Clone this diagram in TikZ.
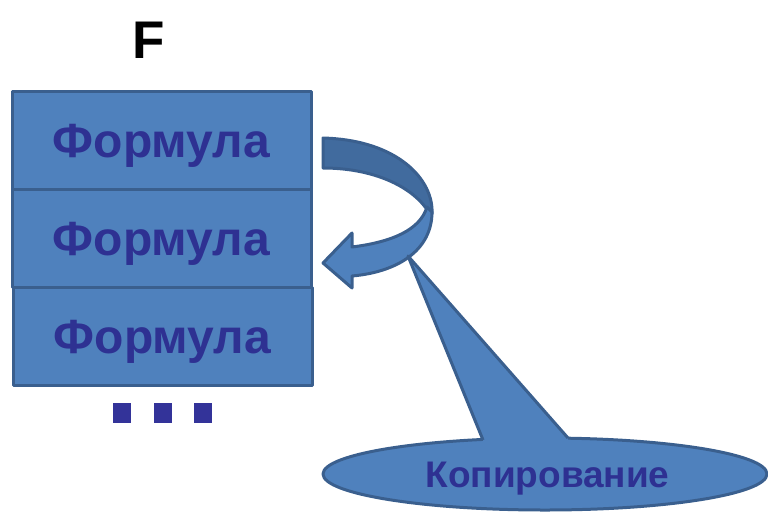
\documentclass[tikz,border=0pt]{standalone}
\usepackage{fontspec}
\setmainfont{Liberation Sans}
\usetikzlibrary{positioning,shapes.geometric}
\definecolor{boxfill}{HTML}{4F81BD}
\definecolor{boxline}{HTML}{3A5F8E}
\definecolor{bandfill}{HTML}{416B9E}
\definecolor{txtblue}{HTML}{2E3192}
\definecolor{dotblue}{HTML}{333399}

\begin{document}
\begin{tikzpicture}[
    x = 1pt,
    y = -1pt,
    line width = 3pt,
    line join = round,
    formula/.style={rectangle, draw=boxline, fill=boxfill, minimum width=299pt,
        minimum height=98pt, inner sep=0pt, outer sep=0pt, text=txtblue,
        font=\fontsize{48}{48}\selectfont\bfseries, text height=34pt, text depth=0pt},
    dot/.style={rectangle, fill=dotblue, minimum width=18pt, minimum height=20pt, inner sep=0pt},
    bubble/.style={ellipse, draw=boxline, fill=boxfill, minimum width=444pt,
        minimum height=72pt, inner sep=0pt},
    label/.style={text=txtblue, font=\fontsize{37}{37}\selectfont\bfseries,
        text height=27pt, text depth=0pt}
]
    \useasboundingbox (0,0) rectangle (768,512);

    \node[font=\fontsize{53}{53}\selectfont\bfseries, text height=38pt, text depth=0pt]
        (title) at (149,39) {F};

    \node[formula] (f1) at (161.5,140) {Формула};
    \node[formula, below=0pt of f1] (f2) {Формула};
    \node[formula, below=0pt of f2, xshift=1pt] (f3) {Формула};

    \node[dot] (d1) at (122,412.5) {};
    \node[dot, right=20pt of d1] (d2) {};
    \node[dot, right=19pt of d2] (d3) {};

    % curved arrow
    \filldraw[draw=boxline, fill=bandfill]
        (323,138) .. controls (398,140) and (434,180) .. (432,214)
        -- (426,208) .. controls (408,184) and (370,168) .. (323,168) -- cycle;
    \filldraw[draw=boxline, fill=boxfill]
        (427,207) .. controls (420,230) and (392,242) .. (352,247)
        -- (352,233) -- (323,263) -- (352,288) -- (352,276)
        .. controls (398,272) and (432,250) .. (432,212) -- cycle;

    % callout
    \node[bubble] (copy) at (545,474) {};
    \coordinate (tip) at (408,256);
    \coordinate (wl) at (483,440);
    \coordinate (wr) at (568,438);
    \fill[boxfill] (wl) -- (tip) -- (wr) -- ([yshift=-8pt]wr) -- ([yshift=-8pt]wl) -- cycle;
    \draw[boxline] (wl) -- (tip) -- (wr);
    \node[label] (copytxt) at ([xshift=2.5pt]copy.center) {Копирование};
\end{tikzpicture}
\end{document}
